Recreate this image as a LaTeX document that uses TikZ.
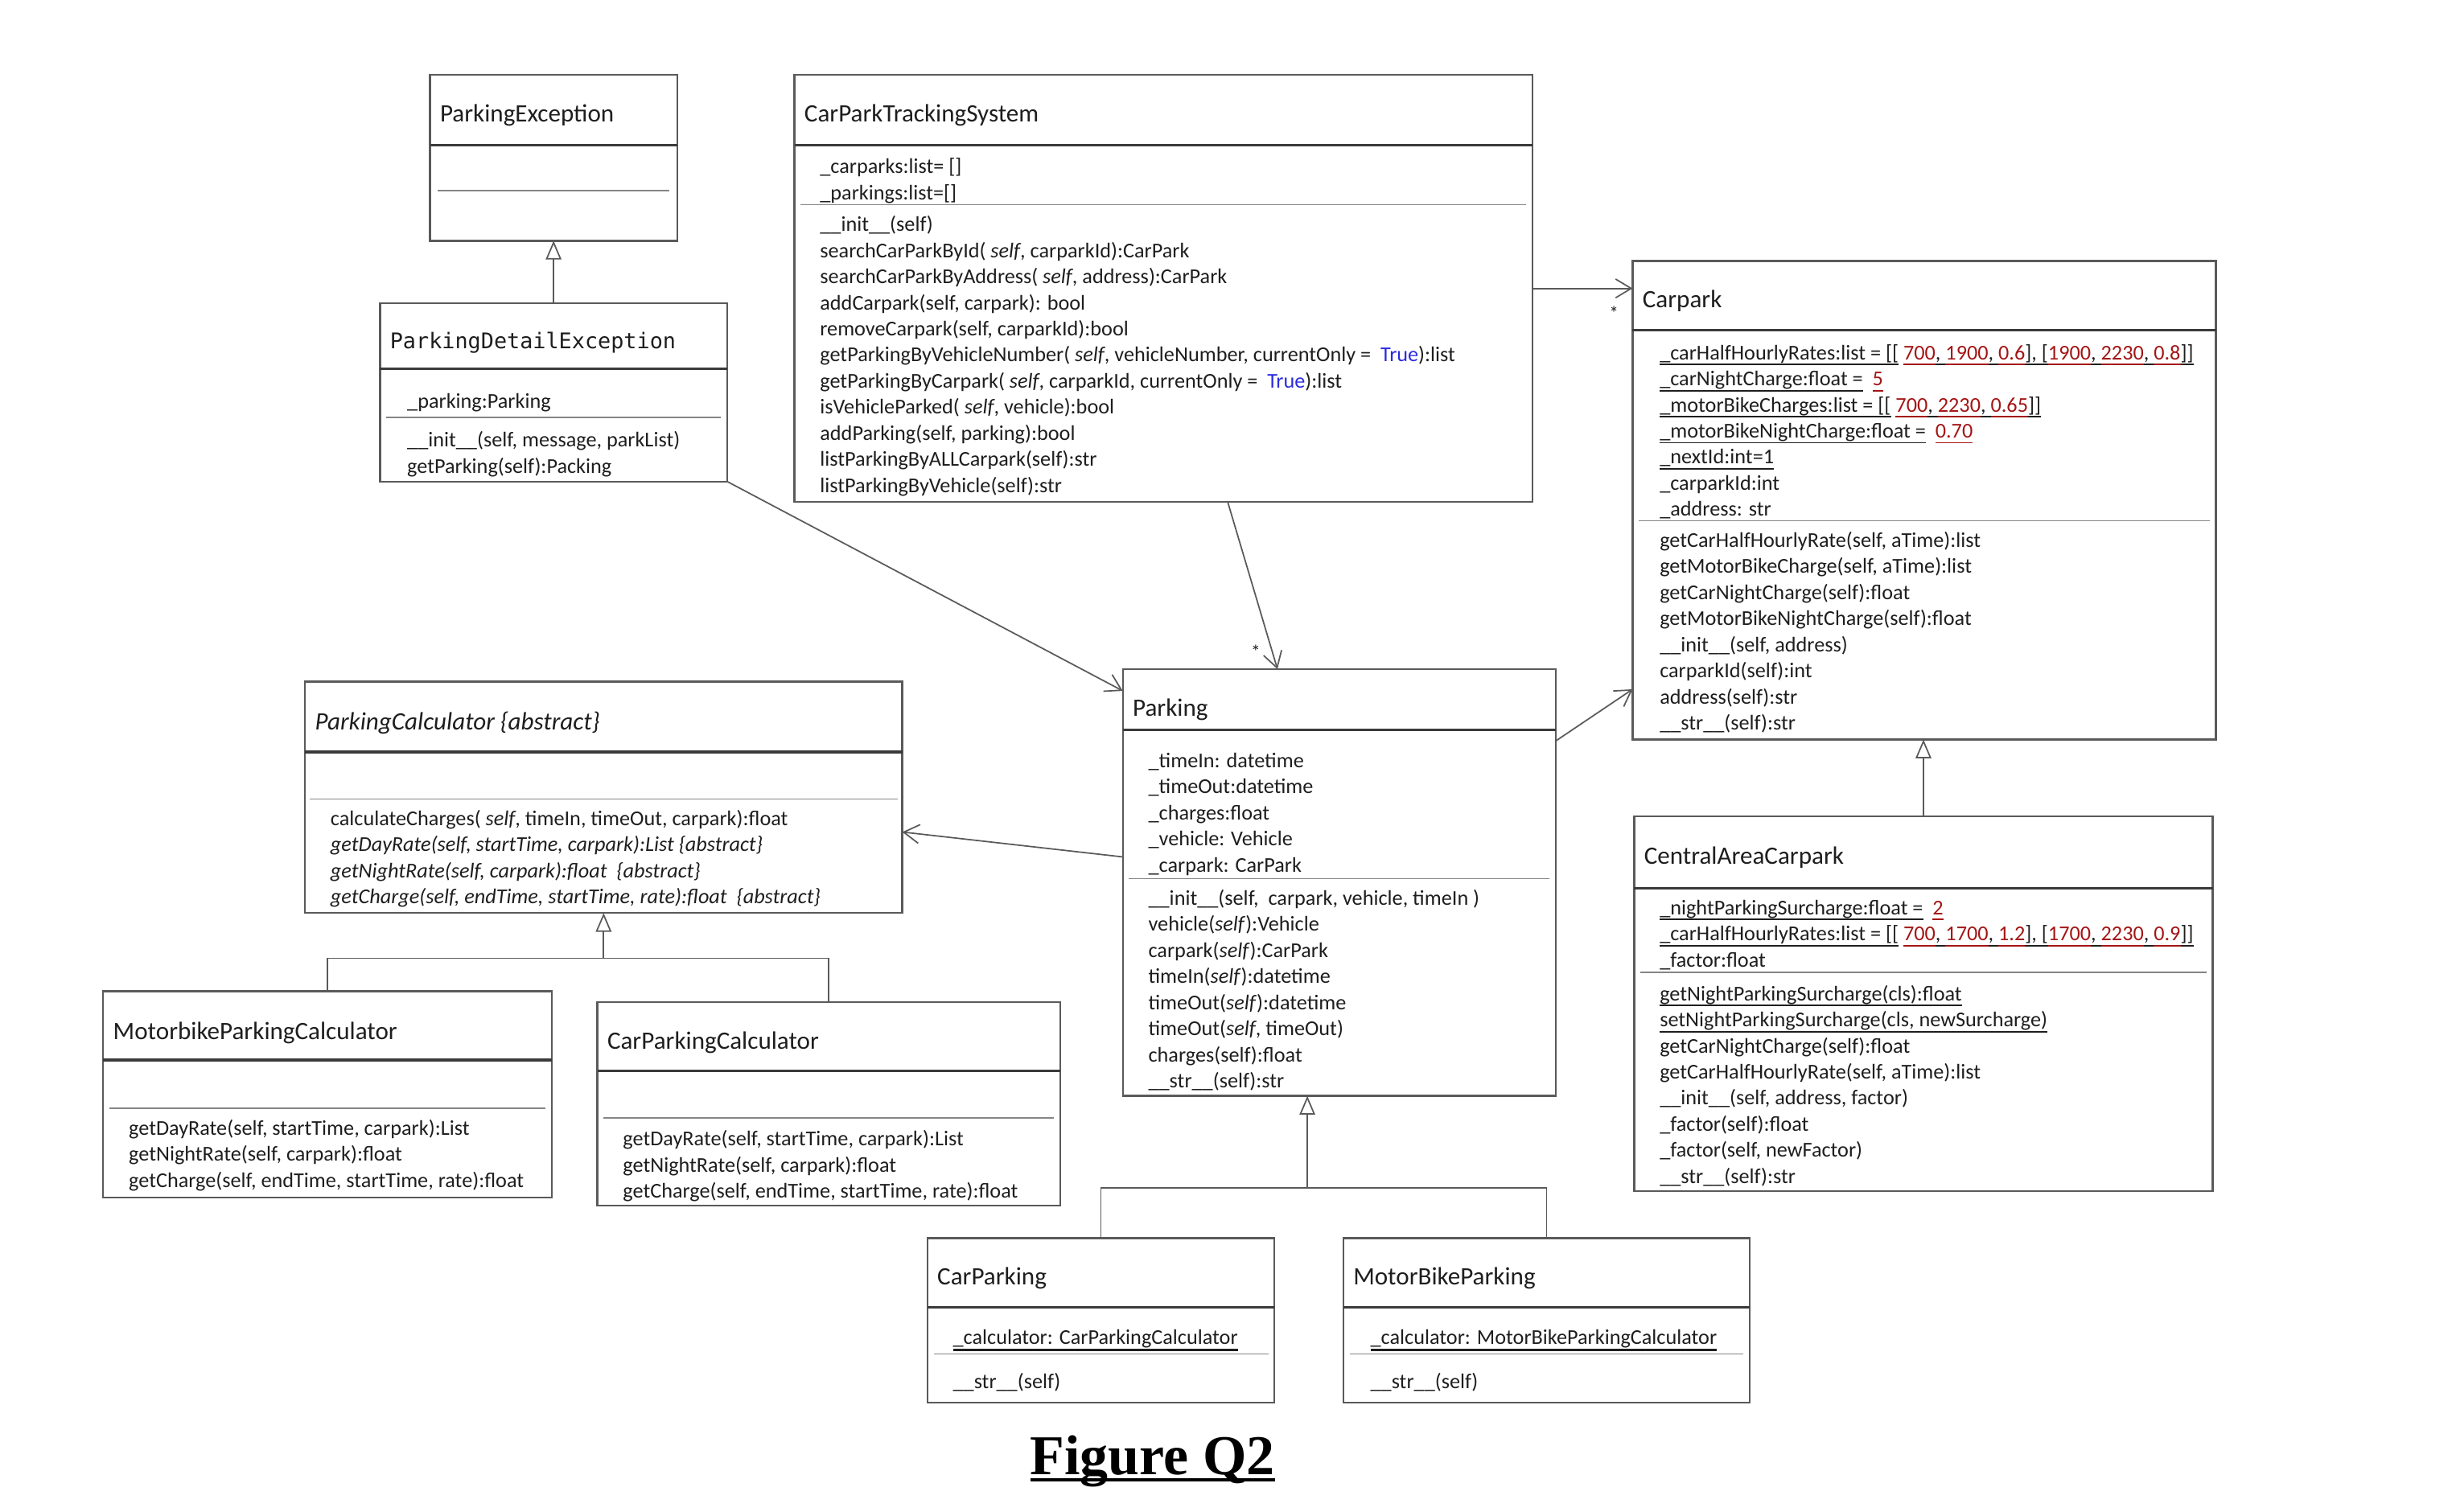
\documentclass[tikz,border=0pt]{standalone}
\usepackage{fontspec}
\setmainfont{Carlito}
\newfontfamily\monof{DejaVu Sans Mono}
\newfontfamily\figf{Liberation Serif}
\usetikzlibrary{arrows.meta,calc}
\definecolor{bordc}{HTML}{5A5A5A}
\definecolor{divc}{HTML}{3A3A3A}
\definecolor{sepc}{HTML}{858585}
\definecolor{txtc}{HTML}{1E1E1E}
\definecolor{numc}{HTML}{A31515}
\definecolor{truec}{HTML}{2B2BE0}
\newcommand\uln[1]{\setbox0\hbox{#1}\rlap{\rule[-1.8pt]{\wd0}{0.5pt}}\box0\relax}
\newcommand\ulnb[1]{\setbox0\hbox{#1}\rlap{\rule[-2.2pt]{\wd0}{0.9pt}}\box0\relax}
\newcommand\rn[1]{\textcolor{numc}{\uln{#1}}}
\newcommand\ubox[5]{%
  \pgfmathsetmacro\bw{(#4-#2)*0.5}%
  \pgfmathsetmacro\bh{(#5-#3)*0.5}%
  \node[ubox, minimum width=\bw pt, minimum height=\bh pt, anchor=north west] (#1) at (#2,#3) {};}
\newcommand\tdiv[2]{\draw[divl] ($(#1.north west)+(0,#2)$) -- ($(#1.north east)+(0,#2)$);}
\newcommand\sdiv[3]{\draw[sepl] ($(#1.north west)+(#3,#2)$) -- ($(#1.north east)+(-#3,#2)$);}
\newenvironment{lns}{\begin{tabular}[t]{@{}l@{}}}{\end{tabular}}
\tikzset{
  ubox/.style={draw=bordc, line width=0.6pt, inner sep=0pt, outer sep=0pt},
  ttl/.style={anchor=base west, inner sep=0pt, font=\fontsize{8}{9.6}\selectfont, text=txtc},
  body/.style={anchor=base west, inner sep=0pt, font=\fontsize{6.75}{8.35}\selectfont, text=txtc},
  divl/.style={draw=divc, line width=0.8pt},
  sepl/.style={draw=sepc, line width=0.4pt},
  assoc/.style={draw=bordc, line width=0.45pt, -{Straight Barb[length=5pt,width=6pt]}},
  gen/.style={draw=bordc, line width=0.45pt, -{Triangle[open,length=6pt,width=5pt]}},
  tree/.style={draw=bordc, line width=0.45pt},
  mult/.style={inner sep=0pt, font=\fontsize{6}{7}\selectfont, text=txtc},
}
\begin{document}
\begin{tikzpicture}[x=0.5pt,y=-0.5pt]
\useasboundingbox (0,0) rectangle (1568,967);

% ---------- boxes ----------
\ubox{pe}{275}{48}{433}{154}
\ubox{pde}{243}{194}{465}{308}
\ubox{cpts}{508}{48}{980}{321}
\ubox{cp}{1044}{167}{1417}{473}
\ubox{pc}{195}{436}{577}{584}
\ubox{pk}{718}{428}{995}{701}
\ubox{mpc}{66}{634}{353}{766}
\ubox{cpc}{382}{641}{678}{771}
\ubox{cac}{1045}{522}{1415}{762}
\ubox{cpk}{593}{792}{815}{897}
\ubox{mbp}{859}{792}{1119}{897}

% ---------- dividers ----------
\tdiv{pe}{45}   \sdiv{pe}{74}{5}
\tdiv{pde}{42}  \sdiv{pde}{73}{4}
\tdiv{cpts}{45} \sdiv{cpts}{83}{4}
\tdiv{cp}{44}   \sdiv{cp}{166}{4}
\tdiv{pc}{45}   \sdiv{pc}{75}{3}
\tdiv{pk}{39}   \sdiv{pk}{134}{4}
\tdiv{mpc}{44}  \sdiv{mpc}{75}{4}
\tdiv{cpc}{44}  \sdiv{cpc}{74}{4}
\tdiv{cac}{46}  \sdiv{cac}{100}{4}
\tdiv{cpk}{44}  \sdiv{cpk}{74}{4}
\tdiv{mbp}{44}  \sdiv{mbp}{74}{4}

% ---------- titles ----------
\node[ttl] (pe-t) at (281,78) {ParkingException};
\node[ttl, font=\monof\fontsize{6.9}{8}\selectfont] (pde-t) at (249,223) {ParkingDetailException};
\node[ttl] (cpts-t) at (514,78) {CarParkTrackingSystem};
\node[ttl] (cp-t) at (1050,197) {Carpark};
\node[ttl] (pc-t) at (201,467) {\itshape ParkingCalculator \{abstract\}};
\node[ttl] (pk-t) at (724,458) {Parking};
\node[ttl] (mpc-t) at (72,665) {MotorbikeParkingCalculator};
\node[ttl] (cpc-t) at (388,671) {CarParkingCalculator};
\node[ttl] (cac-t) at (1051,553) {CentralAreaCarpark};
\node[ttl] (cpk-t) at (599,822) {CarParking};
\node[ttl] (mbp-t) at (865,822) {MotorBikeParking};

% ---------- ParkingDetailException ----------
\node[body] (pde-a) at (260,261) {\_parking:Parking};
\node[body] (pde-m) at (260,286) {\begin{lns}
\_\_init\_\_(self, message, parkList)\\
getParking(self):Packing
\end{lns}};

% ---------- CarParkTrackingSystem ----------
\node[body] (cpts-a) at (524,111) {\begin{lns}
\_carparks:list= []\\
\_parkings:list=[]
\end{lns}};
\node[body] (cpts-m) at (524,148) {\begin{lns}
\_\_init\_\_(self)\\
searchCarParkById( \textit{self}, carparkId):CarPark\\
searchCarParkByAddress( \textit{self}, address):CarPark\\
addCarpark(self, carpark): bool\\
removeCarpark(self, carparkId):bool\\
getParkingByVehicleNumber( \textit{self}, vehicleNumber, currentOnly = \ \textcolor{truec}{True}):list\\
getParkingByCarpark( \textit{self}, carparkId, currentOnly = \ \textcolor{truec}{True}):list\\
isVehicleParked( \textit{self}, vehicle):bool\\
addParking(self, parking):bool\\
listParkingByALLCarpark(self):str\\
listParkingByVehicle(self):str
\end{lns}};

% ---------- Carpark ----------
\node[body] (cp-a) at (1061,230) {\begin{lns}
\uln{\_carHalfHourlyRates:list = [[} \rn{700}\uln{, }\rn{1900}\uln{, }\rn{0.6}\uln{], [}\rn{1900}\uln{, }\rn{2230}\uln{, }\rn{0.8}\uln{]]}\\
\uln{\_carNightCharge:float =} \ \rn{5}\\
\uln{\_motorBikeCharges:list = [[} \rn{700}\uln{, }\rn{2230}\uln{, }\rn{0.65}\uln{]]}\\
\uln{\_motorBikeNightCharge:float =} \ \rn{0.70}\\
\uln{\_nextId:int=1}\\
\_carparkId:int\\
\_address: str
\end{lns}};
\node[body] (cp-m) at (1061,350) {\begin{lns}
getCarHalfHourlyRate(self, aTime):list\\
getMotorBikeCharge(self, aTime):list\\
getCarNightCharge(self):float\\
getMotorBikeNightCharge(self):float\\
\_\_init\_\_(self, address)\\
carparkId(self):int\\
address(self):str\\
\_\_str\_\_(self):str
\end{lns}};

% ---------- ParkingCalculator ----------
\node[body] (pc-m) at (211,528) {\begin{lns}
calculateCharges( \textit{self}, timeIn, timeOut, carpark):float\\
\textit{getDayRate(self, startTime, carpark):List \{abstract\}}\\
\textit{getNightRate(self, carpark):float \ \{abstract\}}\\
\textit{getCharge(self, endTime, startTime, rate):float \ \{abstract\}}
\end{lns}};

% ---------- Parking ----------
\node[body] (pk-a) at (734,491) {\begin{lns}
\_timeIn: datetime\\
\_timeOut:datetime\\
\_charges:float\\
\_vehicle: Vehicle\\
\_carpark: CarPark
\end{lns}};
\node[body] (pk-m) at (734,579) {\begin{lns}
\_\_init\_\_(self, \ carpark, vehicle, timeIn )\\
vehicle(\textit{self}):Vehicle\\
carpark(\textit{self}):CarPark\\
timeIn(\textit{self}):datetime\\
timeOut(\textit{self}):datetime\\
timeOut(\textit{self}, timeOut)\\
charges(self):float\\
\_\_str\_\_(self):str
\end{lns}};

% ---------- calculators ----------
\node[body] (mpc-m) at (82,726) {\begin{lns}
getDayRate(self, startTime, carpark):List\\
getNightRate(self, carpark):float\\
getCharge(self, endTime, startTime, rate):float
\end{lns}};
\node[body] (cpc-m) at (398,733) {\begin{lns}
getDayRate(self, startTime, carpark):List\\
getNightRate(self, carpark):float\\
getCharge(self, endTime, startTime, rate):float
\end{lns}};

% ---------- CentralAreaCarpark ----------
\node[body] (cac-a) at (1061,585) {\begin{lns}
\uln{\_nightParkingSurcharge:float =} \ \rn{2}\\
\uln{\_carHalfHourlyRates:list = [[} \rn{700}\uln{, }\rn{1700}\uln{, }\rn{1.2}\uln{], [}\rn{1700}\uln{, }\rn{2230}\uln{, }\rn{0.9}\uln{]]}\\
\_factor:float
\end{lns}};
\node[body] (cac-m) at (1061,640) {\begin{lns}
\uln{getNightParkingSurcharge(cls):float}\\
\uln{setNightParkingSurcharge(cls, newSurcharge)}\\
getCarNightCharge(self):float\\
getCarHalfHourlyRate(self, aTime):list\\
\_\_init\_\_(self, address, factor)\\
\_factor(self):float\\
\_factor(self, newFactor)\\
\_\_str\_\_(self):str
\end{lns}};

% ---------- CarParking / MotorBikeParking ----------
\node[body] (cpk-a) at (609,860) {\ulnb{\_calculator: CarParkingCalculator}};
\node[body] (cpk-m) at (609,888) {\_\_str\_\_(self)};
\node[body] (mbp-a) at (876,860) {\ulnb{\_calculator: MotorBikeParkingCalculator}};
\node[body] (mbp-m) at (876,888) {\_\_str\_\_(self)};

% ---------- connectors ----------
\draw[assoc] (cpts.east) -- (cpts.east -| cp.west);
\node[mult] (m1) at (1032,200) {*};
\draw[assoc] ($(cpts.south west)!0.587!(cpts.south east)$) -- ($(pk.north west)!0.357!(pk.north east)$);
\node[mult] (m2) at (803,417) {*};
\draw[assoc] (pde.south east) -- ($(pk.north west)!0.051!(pk.south west)$);
\draw[assoc] ($(pk.north west)!0.44!(pk.south west)$) -- ($(pc.north east)!0.65!(pc.south east)$);
\draw[assoc] ($(pk.north east)!0.168!(pk.south east)$) -- ($(cp.north west)!0.895!(cp.south west)$);

\draw[gen] (pde.north) -- (pe.south);
\draw[gen] (cac.north) -- (cac.north |- cp.south);
\coordinate (pcj) at ($(pc.south)+(0,29)$);
\draw[tree] (mpc.north) |- (pcj) -| (cpc.north);
\draw[gen] (pcj) -- (pc.south);
\coordinate (pkb) at ($(pk.south west)!0.426!(pk.south east)$);
\coordinate (pkj) at ($(pkb)+(0,59)$);
\draw[tree] (cpk.north) |- (pkj) -| (mbp.north);
\draw[gen] (pkj) -- (pkb);

% ---------- caption ----------
\node[anchor=base, inner sep=0pt, font=\figf\bfseries\fontsize{18}{20}\selectfont] (fig) at (737,943)
  {\setbox0\hbox{Figure Q2}\rlap{\rule[-2.4pt]{\wd0}{1.1pt}}\box0\relax};
\end{tikzpicture}
\end{document}
